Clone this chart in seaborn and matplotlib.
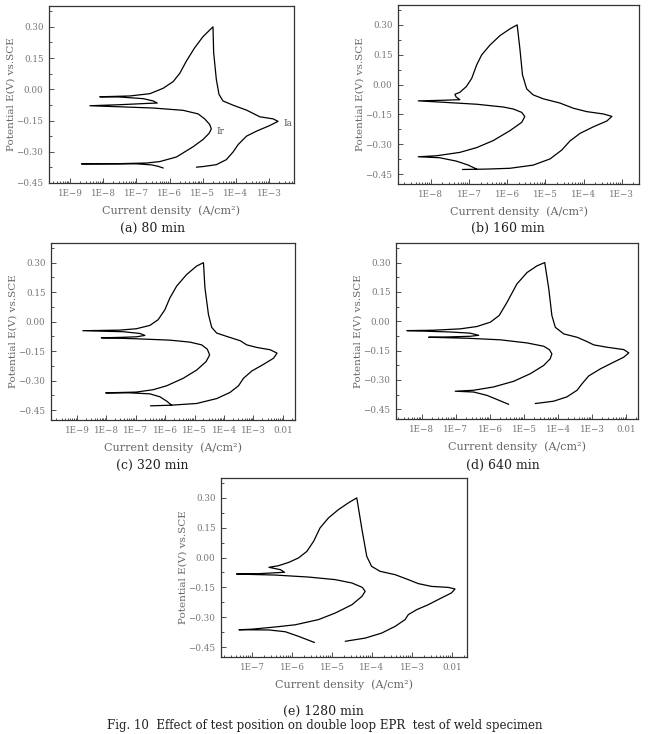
import numpy as np
import pandas as pd
import matplotlib
matplotlib.use("Agg")
import matplotlib.pyplot as plt
from matplotlib.ticker import FixedLocator, AutoMinorLocator, LogLocator, NullFormatter
import seaborn as sns

# traced DL-EPR loops: log10 current density (A/cm2) and potential (V vs SCE)
# (a) 80 min
logi_a = [-6.19, -6.34, -6.54, -6.99, -8.00, -8.65, -7.50, -6.69, -6.29, -5.79, -5.29, -4.99, -4.81,
          -4.74, -4.79, -4.94, -5.14, -5.59, -6.49, -7.50, -8.40, -7.50, -6.69, -6.37, -6.49, -6.79,
          -7.50, -8.10, -7.19, -6.59, -6.19, -5.89, -5.69, -5.49, -5.24, -4.99, -4.69, -4.67, -4.59,
          -4.51, -4.39, -4.09, -3.68, -3.28, -2.88, -2.73, -2.98, -3.38, -3.68, -3.93, -4.09, -4.29,
          -4.59, -4.99, -5.19]
e_a = [-0.378, -0.370, -0.363, -0.358, -0.358, -0.358, -0.357, -0.354, -0.347, -0.325, -0.276, -0.241,
       -0.212, -0.190, -0.169, -0.142, -0.118, -0.101, -0.090, -0.084, -0.079, -0.074, -0.068, -0.066,
       -0.056, -0.045, -0.037, -0.036, -0.032, -0.021, 0.005, 0.037, 0.077, 0.136, 0.200, 0.253, 0.300,
       0.176, 0.048, -0.024, -0.056, -0.076, -0.100, -0.132, -0.142, -0.154, -0.174, -0.201, -0.225,
       -0.265, -0.302, -0.338, -0.362, -0.371, -0.374]

# (b) 160 min
logi_b = [-6.80, -7.02, -7.33, -7.77, -8.33, -7.85, -7.24, -6.80, -6.37, -5.93, -5.62, -5.54, -5.62,
          -5.84, -6.10, -6.80, -7.68, -8.33, -7.68, -7.24, -7.34, -7.37, -7.24, -7.07, -6.93, -6.80,
          -6.67, -6.45, -6.19, -5.93, -5.74, -5.67, -5.60, -5.49, -5.32, -5.05, -4.62, -4.27, -3.92,
          -3.48, -3.26, -3.39, -3.74, -4.09, -4.36, -4.57, -4.88, -5.32, -5.93, -6.54, -7.17]
e_b = [-0.425, -0.405, -0.385, -0.368, -0.363, -0.358, -0.341, -0.317, -0.282, -0.232, -0.190, -0.161,
       -0.140, -0.123, -0.113, -0.099, -0.089, -0.082, -0.079, -0.076, -0.062, -0.049, -0.039, -0.010,
       0.031, 0.099, 0.149, 0.199, 0.246, 0.280, 0.300, 0.183, 0.048, -0.022, -0.052, -0.072, -0.093,
       -0.119, -0.136, -0.148, -0.160, -0.183, -0.212, -0.245, -0.284, -0.329, -0.374, -0.405, -0.421,
       -0.425, -0.427]

# (c) 320 min
logi_c = [-5.78, -5.95, -6.18, -6.52, -7.20, -8.02, -6.98, -6.41, -5.95, -5.39, -4.93, -4.61, -4.49,
          -4.57, -4.76, -5.16, -5.84, -6.98, -8.17, -7.55, -6.98, -6.69, -6.86, -7.43, -8.80, -7.55,
          -6.98, -6.52, -6.24, -6.01, -5.84, -5.61, -5.27, -4.93, -4.70, -4.65, -4.53, -4.42, -4.25,
          -3.91, -3.45, -3.23, -2.89, -2.43, -2.20, -2.32, -2.66, -3.06, -3.34, -3.51, -3.80, -4.25,
          -4.93, -5.84, -6.50]
e_c = [-0.425, -0.404, -0.382, -0.367, -0.362, -0.362, -0.358, -0.346, -0.326, -0.288, -0.246, -0.203,
       -0.169, -0.140, -0.118, -0.104, -0.094, -0.087, -0.082, -0.080, -0.077, -0.070, -0.060, -0.051,
       -0.046, -0.043, -0.036, -0.019, 0.010, 0.061, 0.121, 0.181, 0.240, 0.283, 0.300, 0.172, 0.036,
       -0.029, -0.058, -0.075, -0.097, -0.118, -0.131, -0.143, -0.160, -0.186, -0.217, -0.251, -0.288,
       -0.326, -0.360, -0.391, -0.416, -0.425, -0.428]

# (d) 640 min
logi_d = [-5.45, -5.74, -6.09, -6.48, -7.02, -6.48, -5.89, -5.30, -4.81, -4.42, -4.23, -4.18, -4.25,
          -4.42, -4.91, -5.70, -6.68, -7.80, -7.17, -6.58, -6.33, -6.58, -7.17, -8.44, -7.66, -6.87,
          -6.38, -5.99, -5.73, -5.50, -5.21, -4.91, -4.62, -4.39, -4.27, -4.18, -4.08, -3.83, -3.44,
          -3.15, -2.95, -2.56, -2.07, -1.92, -2.07, -2.36, -2.75, -3.10, -3.29, -3.44, -3.74, -4.13,
          -4.67]
e_d = [-0.425, -0.404, -0.379, -0.362, -0.358, -0.353, -0.336, -0.307, -0.268, -0.226, -0.192, -0.167,
       -0.146, -0.128, -0.111, -0.095, -0.087, -0.082, -0.080, -0.077, -0.072, -0.061, -0.055, -0.048,
       -0.046, -0.039, -0.027, -0.005, 0.029, 0.096, 0.190, 0.249, 0.283, 0.300, 0.164, 0.029, -0.031,
       -0.065, -0.082, -0.104, -0.121, -0.133, -0.145, -0.162, -0.184, -0.209, -0.243, -0.280, -0.319,
       -0.353, -0.387, -0.409, -0.421]

# (e) 1280 min
logi_e = [-5.44, -5.84, -6.17, -6.58, -7.33, -7.00, -6.42, -5.92, -5.34, -4.92, -4.50, -4.25, -4.17,
          -4.24, -4.50, -4.92, -5.59, -6.42, -7.39, -6.83, -6.19, -6.29, -6.58, -6.34, -6.08, -5.84,
          -5.63, -5.46, -5.30, -5.09, -4.84, -4.59, -4.38, -4.25, -4.13, -4.01, -3.80, -3.42, -3.09,
          -2.84, -2.51, -2.09, -1.92, -2.01, -2.26, -2.59, -2.88, -3.09, -3.17, -3.42, -3.76, -4.17,
          -4.67]
e_e = [-0.427, -0.396, -0.373, -0.364, -0.363, -0.360, -0.349, -0.338, -0.312, -0.279, -0.237, -0.195,
       -0.170, -0.150, -0.128, -0.111, -0.098, -0.088, -0.083, -0.081, -0.074, -0.061, -0.049, -0.041,
       -0.024, -0.002, 0.031, 0.082, 0.149, 0.199, 0.241, 0.275, 0.300, 0.141, 0.006, -0.044, -0.069,
       -0.086, -0.111, -0.131, -0.145, -0.150, -0.158, -0.178, -0.203, -0.237, -0.262, -0.287, -0.312,
       -0.346, -0.380, -0.405, -0.421]

captions = ["(a) 80 min", "(b) 160 min", "(c) 320 min", "(d) 640 min", "(e) 1280 min"]
xtick_exp = {
    "a": [-9, -8, -7, -6, -5, -4, -3],
    "b": [-8, -7, -6, -5, -4, -3],
    "c": [-9, -8, -7, -6, -5, -4, -3, -2],
    "d": [-8, -7, -6, -5, -4, -3, -2],
    "e": [-7, -6, -5, -4, -3, -2],
}
ytick_vals = [-0.45, -0.30, -0.15, 0.00, 0.15, 0.30]


def tick_text(p):
    return "0.01" if p == -2 else "1E\u2212%d" % (-p)


def num_text(v):
    return ("%.2f" % v).replace("-", "\u2212")


sns.set_theme(style="ticks")
plt.rcParams["font.family"] = ["DejaVu Serif"]

fig = plt.figure(figsize=(6.5, 7.34), dpi=100)
W, H = 650.0, 734.0

# panel: key, data, caption, axes box in pixels (x0, x1, ytop, ybottom), xlim in log10, ylim,
# caption position
panels = [
    ("a", logi_a, e_a, captions[0], (49, 294, 6, 183), (-9.63, -2.25), (-0.45, 0.40), (153, 228)),
    ("b", logi_b, e_b, captions[1], (398, 639, 5, 184), (-8.86, -2.55), (-0.50, 0.40), (508, 228)),
    ("c", logi_c, e_c, captions[2], (51, 295, 243, 420), (-9.88, -1.59), (-0.50, 0.40), (152, 465)),
    ("d", logi_d, e_d, captions[3], (396, 638, 243, 419), (-8.76, -1.65), (-0.50, 0.40), (503, 465)),
    ("e", logi_e, e_e, captions[4], (221, 467, 478, 657), (-7.78, -1.62), (-0.50, 0.40), (323, 711)),
]

for key, logi, pot, cap, box, xl, yl, cpos in panels:
    x0, x1, yt, yb = box
    ax = fig.add_axes([x0 / W, 1 - yb / H, (x1 - x0) / W, (yb - yt) / H])
    df = pd.DataFrame({"i": 10 ** np.array(logi), "E": pot})
    sns.lineplot(data=df, x="i", y="E", sort=False, estimator=None, color="black",
                 linewidth=0.9, ax=ax)
    ax.set_xscale("log")
    ax.set_xlim(10 ** xl[0], 10 ** xl[1])
    ax.set_ylim(*yl)
    ex = xtick_exp[key]
    ax.xaxis.set_major_locator(FixedLocator([10.0 ** p for p in ex]))
    ax.set_xticklabels([tick_text(p) for p in ex])
    ax.xaxis.set_minor_locator(LogLocator(base=10, subs=np.arange(2, 10), numticks=30))
    ax.xaxis.set_minor_formatter(NullFormatter())
    ax.set_yticks(ytick_vals)
    ax.set_yticklabels([num_text(v) for v in ytick_vals])
    ax.yaxis.set_minor_locator(AutoMinorLocator(2))
    ax.tick_params(which="both", direction="in", color="#333333", width=0.6,
                   labelsize=6.3, labelcolor="#777777")
    ax.tick_params(which="major", length=3.5, pad=4)
    ax.tick_params(which="minor", length=1.8)
    for s in ax.spines.values():
        s.set_color("#333333")
        s.set_linewidth(0.9)
    ax.set_xlabel("Current density  (A/cm\u00b2)", fontsize=8, color="#666666", labelpad=6)
    ax.set_ylabel("Potential E(V) vs.SCE", fontsize=7.5, color="#666666", labelpad=1)
    if key == "a":
        ax.text(10 ** -2.58, -0.166, "Ia", fontsize=6.5, color="#555555", va="center")
        ax.text(10 ** -4.59, -0.201, "Ir", fontsize=6.5, color="#555555", va="center")
    fig.text(cpos[0] / W, 1 - cpos[1] / H, cap, ha="center", va="center", fontsize=9,
             color="#222222")

fig.text(325 / W, 1 - 726 / H,
         "Fig. 10  Effect of test position on double loop EPR  test of weld specimen",
         ha="center", va="center", fontsize=8.5, color="#222222")

fig.savefig("out.png", dpi=100)
